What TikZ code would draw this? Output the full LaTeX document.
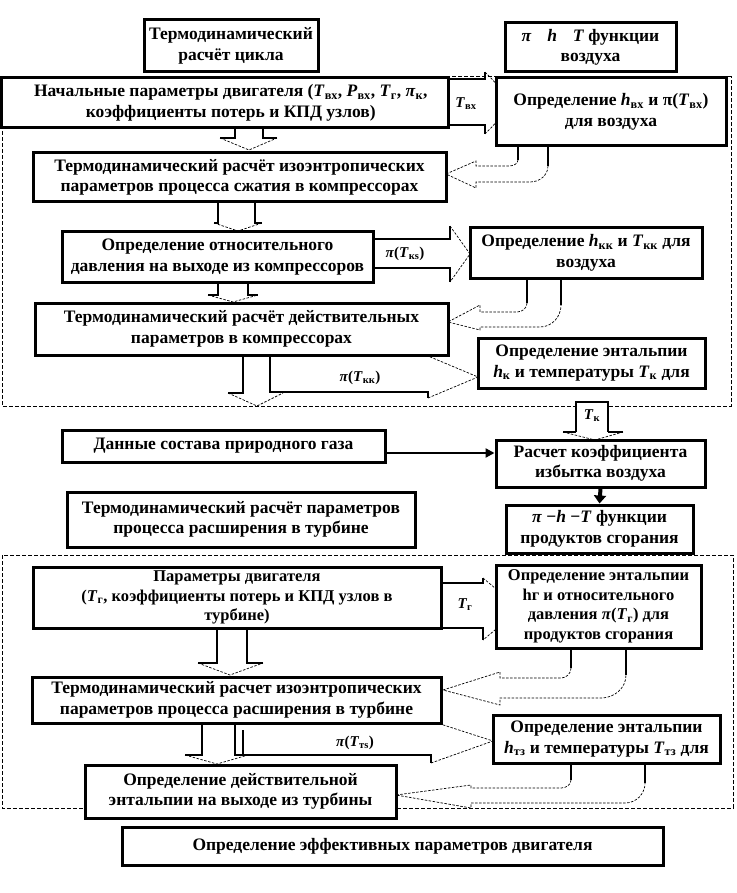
\documentclass[tikz,border=0pt]{standalone}
\usepackage{fontspec}
\setmainfont{Liberation Serif}
\usetikzlibrary{arrows.meta}
\newcommand\sbs[1]{\textsubscript{#1}}
\newcommand\vi[1]{\textit{#1}}
\newcommand\bx[7][]{%
  \node[box, minimum width={(#5-#3)*1pt}, minimum height={(#6-#4)*1pt}, #1] (#2) at ({(#3+#5)/2},{(#4+#6)/2}) {#7};}
\newcommand\dba[8]{% xl xr ytop yhead hl hr xtip ytip
  \draw[shaft] (#1,#3) -- (#1,#4) -- (#5,#4);
  \draw[shaft] (#2,#3) -- (#2,#4) -- (#6,#4);
  \draw[headl] (#5,#4) -- (#7,#8) -- (#6,#4);}
\begin{document}
\begin{tikzpicture}[x=1pt,y=-1pt,
  box/.style={draw, line width=3pt, fill=white, align=center, inner sep=1pt,
    font=\fontsize{17.5}{20.5}\selectfont\bfseries},
  smallbox/.style={font=\fontsize{16.5}{19.5}\selectfont\bfseries},
  shaft/.style={line width=1.4pt},
  headl/.style={line width=0.7pt, dash pattern=on 2.5pt off 1.5pt},
  frame/.style={line width=1pt, dash pattern=on 4pt off 2pt},
  lbl/.style={font=\fontsize{15}{16}\selectfont\bfseries, inner sep=0pt},
]
\useasboundingbox (0,0) rectangle (736,893);
% dashed frames
\draw[frame] (2,77) rectangle (731,406);
\draw[frame] (2,555) rectangle (733,808);

% block arrows, first part
\dba{235}{263}{128}{138}{220}{277}{249}{150}
\dba{218}{255}{202}{223}{214}{262}{238}{231}
\dba{218}{248}{282}{295}{208}{258}{233}{302}
% T_vx arrow
\draw[shaft] (448,79) -- (485,79) -- (485,72);
\draw[shaft] (448,125) -- (485,125) -- (485,134);
\draw[headl] (485,72) -- (515,103) -- (485,134);
% pi(T_ks) arrow
\draw[shaft] (373,239) -- (450,239) -- (450,226);
\draw[shaft] (373,268) -- (450,268) -- (450,282);
\draw[headl] (450,226) -- (470,254) -- (450,282);
% U-turn b1 -> b2
\draw[shaft] (518,146) -- (518,160);
\draw[shaft] (548,146) -- (548,166);
\draw[headl] (518,160) to[out=-90,in=0] (508,166) -- (476,166) -- (476,161) -- (446,174) -- (476,188) -- (476,182) -- (530,182) to[out=0,in=-90] (548,166);
% U-turn b4 -> b5
\draw[shaft] (527,280) -- (527,303);
\draw[shaft] (561,280) -- (561,305);
\draw[headl] (527,303) to[out=-90,in=0] (517,312) -- (480,312) -- (480,305) -- (448,322) -- (480,330) -- (480,327) -- (540,327) to[out=0,in=-90] (561,305);
% down arrow from b5 with branch
\draw[shaft] (243,355) -- (243,393) -- (228,393);
\draw[shaft] (270,355) -- (270,392) -- (428,392) -- (428,398);
\draw[headl] (228,393) -- (257,406) -- (283,393);
\draw[headl] (428,398) -- (478,377) -- (428,356);
% T_k arrow
\fill[white] (576,402) rectangle (608,432);
\draw[shaft] (576,432) -- (576,402) -- (608,402) -- (608,432);
\draw[shaft] (576,432) -- (563,432);
\draw[shaft] (608,432) -- (623,432);
\draw[headl] (563,432) -- (595,440) -- (623,432);

% second part
\dba{217}{247}{628}{663}{198}{263}{230}{675}
\dba{202}{235}{723}{755}{185}{248}{217}{764}
% T_g arrow
\draw[shaft] (441,583) -- (483,583) -- (483,578);
\draw[shaft] (441,628) -- (483,628) -- (483,640);
\draw[headl] (483,578) -- (520,609) -- (483,640);
% U-turn b11 -> b12
\draw[shaft] (571,648) -- (571,668);
\draw[shaft] (626,648) -- (626,675);
\draw[headl] (571,668) to[out=-90,in=0] (561,678) -- (500,678) -- (500,672) -- (443,690) -- (500,705) -- (500,698) -- (601,698) to[out=0,in=-90] (626,675);
% branch pi(T_ts)
\draw[shaft] (243,730) -- (243,755) -- (431,755) -- (431,763);
\draw[headl] (431,763) -- (493,741) -- (431,721);
% U-turn b13 -> b14
\draw[shaft] (571,763) -- (571,780);
\draw[shaft] (645,763) -- (645,783);
\draw[headl] (571,780) to[out=-90,in=0] (561,788) -- (471,788) -- (471,785) -- (396,795) -- (471,808) -- (471,803) -- (625,803) to[out=0,in=-90] (645,783);

% boxes
\bx{cyc}{144}{20}{318}{72}{Термодинамический\\ расчёт цикла}
\bx{pht}{505}{23}{676}{72}{\vi{π}\hspace{0.9em}\vi{h}\hspace{0.9em}\vi{T} функции\\ воздуха}
\bx{b0}{1.5}{78}{448}{128}{\hspace*{12pt}Начальные параметры двигателя (\vi{T}\sbs{вх}, \vi{P}\sbs{вх}, \vi{T}\sbs{г}, \vi{π}\sbs{к},\\ \hspace*{12pt}коэффициенты потерь и КПД узлов)}
\bx{b1}{496}{78}{726}{146}{Определение \vi{h}\sbs{вх} и π(\vi{T}\sbs{вх})\\ для воздуха}
\bx{b2}{33}{153}{446}{202}{Термодинамический расчёт изоэнтропических\\ параметров процесса сжатия в компрессорах}
\bx{b3}{62}{232}{373}{282}{Определение относительного\\ давления на выходе из компрессоров}
\bx{b4}{470}{228}{702}{278}{Определение \vi{h}\sbs{кк} и \vi{T}\sbs{кк} для\\ воздуха}
\bx{b5}{35}{303}{448}{355}{Термодинамический расчёт действительных\\ параметров в компрессорах}
\bx{b6}{478}{338}{705}{388}{Определение энтальпии\\ \vi{h}\sbs{к} и температуры \vi{T}\sbs{к} для}
\bx{gas}{62}{430}{385}{462}{Данные состава природного газа}
\bx{b7}{496}{440}{705}{487}{Расчет коэффициента\\ избытка воздуха}
\bx{b9}{67}{492}{415}{547}{Термодинамический расчёт параметров\\ процесса расширения в турбине}
\bx{b8}{506}{505}{693}{553}{\vi{π} −\vi{h} −\vi{T} функции\\ продуктов сгорания}
\bx[smallbox]{b10}{33}{567}{441}{628}{Параметры двигателя\\ (\vi{T}\sbs{г}, коэффициенты потерь и КПД узлов в\\ турбине)}
\bx[smallbox]{b11}{496}{565}{701}{648}{Определение энтальпии\\ hг и относительного\\ давления \vi{π}(\vi{T}\sbs{г}) для\\ продуктов сгорания}
\bx{b12}{32}{677}{441}{723}{Термодинамический расчет изоэнтропических\\ параметров процесса расширения в турбине}
\bx{b13}{493}{715}{720}{763}{Определение энтальпии\\ \vi{h}\sbs{тз} и температуры \vi{T}\sbs{тз} для}
\bx{b14}{85}{765}{396}{818}{Определение действительной\\ энтальпии на выходе из турбины}
\bx{b15}{122}{827}{663}{865}{Определение эффективных параметров двигателя}

% solid arrows
\path (0,453) coordinate (h453);
\draw[line width=2.5pt, -{Triangle[length=9pt,width=9pt]}] (gas.east |- h453) -- (b7.west |- h453);
\draw[line width=4pt, -{Triangle[length=8pt,width=12pt]}] (b7.south) -- (b8.north);

% labels
\node[lbl] (lvx) at (466,104) {\vi{T}\sbs{вх}};
\node[lbl] (lks) at (405,254) {\vi{π}(\vi{T}\sbs{кs})};
\node[lbl] (lkk) at (360,378) {\vi{π}(\vi{T}\sbs{кк})};
\node[lbl] (lk) at (592,416) {\vi{T}\sbs{к}};
\node[lbl] (lg) at (465,605) {\vi{T}\sbs{г}};
\node[lbl] (lts) at (355,743) {\vi{π}(\vi{T}\sbs{тs})};
\end{tikzpicture}
\end{document}
